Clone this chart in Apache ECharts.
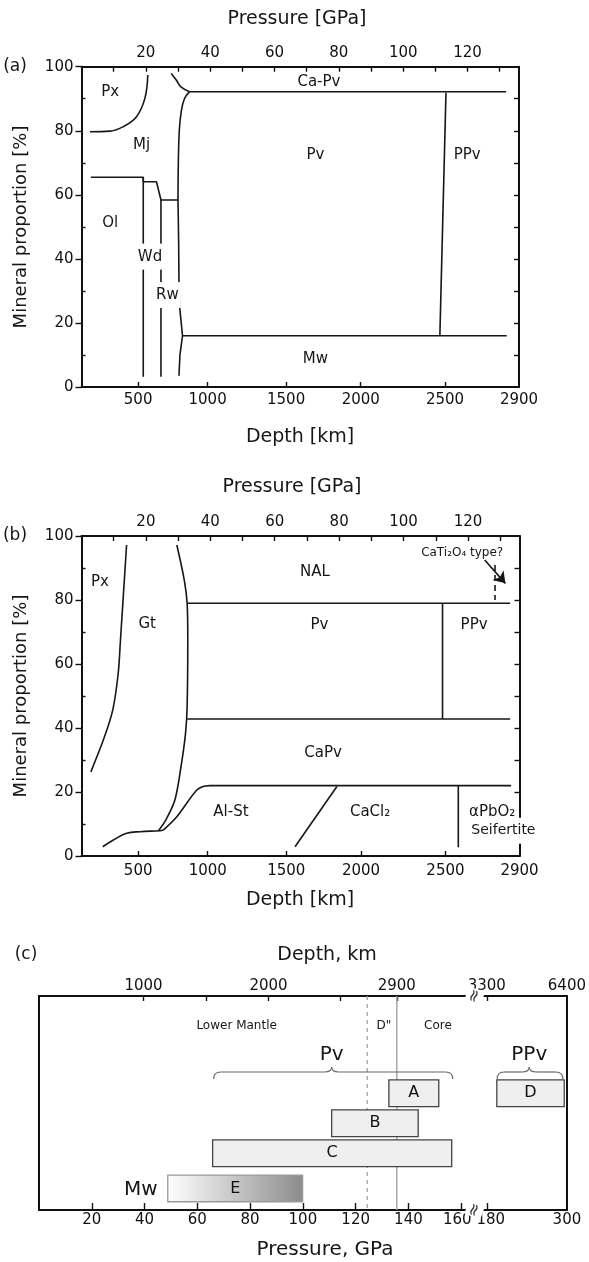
<!DOCTYPE html>
<html>
<head>
<meta charset="utf-8">
<title>Mineral proportions in the mantle</title>
<script src="https://cdn.jsdelivr.net/npm/echarts@6.0.0/dist/echarts.min.js"></script>
<style>
  html, body { margin: 0; padding: 0; background: #fff; }
  #chart { width: 589px; height: 1262px; }
</style>
</head>
<body>
<div id="chart"></div>
<script>
// shared scale of panels (a) and (b): x is pressure in GPa
const pressureMax = 136;
const pressureLabels = [20, 40, 60, 80, 100, 120];
const pressureTicks = [10, 20, 30, 40, 50, 60, 70, 80, 90, 100, 110, 120, 130];
const depthKm = [500, 1000, 1500, 2000, 2500, 2900];
const depthAtPressure = [17.6, 39.2, 63.6, 86.8, 113, 136];
const proportionLabels = [0, 20, 40, 60, 80, 100];
const proportionMinor = [10, 30, 50, 70, 90];
const proportionAll = [10, 20, 30, 40, 50, 60, 70, 80, 90];

// (a) phase boundaries, [pressure GPa, proportion %]
const aPxMj = [[2.6, 79.7], [8.9, 79.9], [13.0, 81.3], [17.1, 84.4], [19.7, 90.1], [20.6, 97.4]];
const aOlTop = [[2.9, 65.5], [19.2, 65.5], [19.2, 64.1], [23.3, 64.1], [24.7, 58.4], [30.0, 58.4]];
const aOlWd = [[19.2, 65.5], [19.2, 3.2]];
const aWdRw = [[24.7, 58.4], [24.7, 3.2]];
const aRwPv = [[30.0, 58.4], [30.2, 45.0], [30.3, 33.0], [30.5, 25.0], [31.4, 16.0], [30.6, 10.0], [30.3, 3.5]];
const aMjPv = [[30.0, 58.4], [30.1, 70.0], [30.4, 80.0], [31.0, 86.0], [32.0, 90.0], [33.6, 92.2]];
const aCaPvCurve = [[27.9, 97.9], [29.4, 95.9], [31.0, 93.6], [33.6, 92.2]];
const aCaPv = [[33.6, 92.2], [132.0, 92.2]];
const aPvPPv = [[113.3, 91.9], [111.4, 16.0]];
const aMw = [[31.4, 16.0], [132.2, 16.0]];
const aLabels = [['Px', 8.9, 92.2], ['Mj', 18.7, 75.6], ['Ca-Pv', 73.8, 95.3], ['Pv', 72.7, 72.4],
  ['PPv', 119.9, 72.4], ['Ol', 8.9, 51.1], ['Wd', 21.3, 40.7], ['Rw', 26.7, 28.7], ['Mw', 72.7, 8.6]];

// (b) phase boundaries
const bPxGt = [[2.9, 26.3], [6.8, 36.3], [9.7, 45.6], [11.4, 57.1], [12.1, 67.5], [14.0, 97.2]];
const bGtPv = [[29.6, 97.2], [31.9, 86.3], [32.8, 79.0], [33.0, 67.5], [32.8, 46.7], [32.3, 38.3],
  [30.9, 27.9], [29.0, 17.5], [26.2, 11.3], [23.9, 7.9]];
const bAlStLow = [[6.6, 2.9], [9.9, 5.0], [14.0, 7.1], [18.2, 7.6], [24.4, 7.9], [25.4, 8.1]];
const bAlStRise = [[25.4, 8.1], [29.6, 12.3], [35.8, 20.6], [38.4, 21.9], [39.9, 22.0]];
const bCaPvBase = [[39.9, 22.0], [133.4, 22.0]];
const bNalPv = [[32.8, 79.0], [133.1, 79.0]];
const bPvCaPv = [[32.8, 42.8], [133.1, 42.8]];
const bPvPPv = [[112.1, 79.0], [112.1, 42.8]];
const bCaCl2 = [[66.3, 2.9], [79.3, 21.7]];
const bSeifertite = [[117.0, 22.0], [117.0, 2.7]];
const bCaTi2O4 = [[128.4, 90.9], [128.4, 80.0]];
const bArrow = [[125.2, 92.5], [131.6, 85.2]];
const bLabels = [['Px', 5.7, 85.7], ['Gt', 20.4, 72.5], ['NAL', 72.5, 88.8], ['Pv', 73.9, 72.2],
  ['PPv', 121.9, 72.2], ['CaPv', 75.0, 32.3], ['Al-St', 46.4, 13.8], ['CaCl₂', 89.6, 13.8],
  ['αPbO₂', 127.5, 13.8], ['Seifertite', 131.0, 7.9], ['CaTi₂O₄ type?', 118.2, 94.6]];

// (c) stability ranges, pressure axis broken between 160 and 180 GPa
const cPressureTicks = [20, 40, 60, 80, 100, 120, 140, 160, 180, 300];
const cDepthKm = [1000, 1500, 2000, 2500, 2900, 3300, 6400];
const cDepthAtPressure = [39.6, 63.3, 87.0, 114.3, 135.6, 180, 300];
const cDepthLabelled = [1000, 2000, 2900, 3300, 6400];
const cBoxNames = ['A', 'B', 'C', 'D', 'E'];
const cBoxFrom = [132.6, 110.9, 65.8, 195, 48.8];
const cBoxTo = [151.5, 143.7, 156.4, 296, 99.9];
const cBoxRow = [1, 2, 3, 1, 4.17];
const cBraceFrom = [66.2, 195.5];
const cBraceTo = [156.8, 294];
const cBraceTip = [110.9, 243.6];
const cDDoublePrime = 124.4;
const cCoreMantle = 135.6;
const cNotes = [['Lower Mantle', 74.9, -1.25], ['D"', 130.7, -1.25], ['Core', 151.2, -1.25],
  ['Pv', 110.9, -0.28], ['PPv', 243.6, -0.28], ['Mw', 38.6, 4.22]];
const cBigNotes = ['Pv', 'PPv', 'Mw'];

const FONT = 'DejaVu Sans';
const INK = '#161616';
const cYMin = -2.243, cYMax = 4.89;

// broken axis: 0-165 linear, 165-180 squeezed, above 180 compressed
function brk(p) {
  if (p <= 165) return p;
  if (p <= 180) return 165 + (p - 165) * 4.7 / 15;
  return 169.7 + (p - 180) * 0.253;
}
function nearestIndex(arr, v) {
  let best = 0;
  arr.forEach((a, i) => { if (Math.abs(a - v) < Math.abs(arr[best] - v)) best = i; });
  return best;
}

const frameLine = {show: true, onZero: false, lineStyle: {color: '#111', width: 2}};
const tickLine = {color: '#111', width: 1.4};
const tickFont = {color: '#111', fontSize: 15, fontFamily: FONT};

function panelXAxes(g) {
  return [{
    gridIndex: g, type: 'value', position: 'bottom', min: 0, max: pressureMax,
    splitLine: {show: false}, axisLine: frameLine,
    axisTick: {show: true, inside: true, length: 5, customValues: depthAtPressure.slice(0, -1), lineStyle: tickLine},
    axisLabel: Object.assign({customValues: depthAtPressure, margin: g === 0 ? 6 : 8,
      formatter: v => String(depthKm[nearestIndex(depthAtPressure, v)])}, tickFont)
  }, {
    gridIndex: g, type: 'value', position: 'top', min: 0, max: pressureMax,
    splitLine: {show: false}, axisLine: frameLine,
    axisTick: {show: true, inside: true, length: 5, customValues: pressureTicks, lineStyle: tickLine},
    axisLabel: Object.assign({customValues: pressureLabels, margin: 6}, tickFont)
  }];
}
function panelYAxes(g) {
  const base = {gridIndex: g, type: 'value', min: 0, max: 100, splitLine: {show: false}};
  return [
    Object.assign({}, base, {position: 'left', axisLine: frameLine,
      axisTick: {show: true, inside: false, length: 6, customValues: proportionLabels, lineStyle: tickLine},
      axisLabel: Object.assign({customValues: proportionLabels, margin: 8}, tickFont)}),
    Object.assign({}, base, {position: 'left', axisLine: {show: false},
      axisTick: {show: true, inside: true, length: 4, customValues: proportionMinor, lineStyle: tickLine},
      axisLabel: {show: false}}),
    Object.assign({}, base, {position: 'right', axisLine: frameLine,
      axisTick: {show: true, inside: true, length: 5, customValues: proportionAll, lineStyle: tickLine},
      axisLabel: {show: false}})
  ];
}

function path(data, xi, yi, smooth, extra) {
  return Object.assign({
    type: 'line', xAxisIndex: xi, yAxisIndex: yi, data: data, symbol: 'none',
    smooth: smooth || false, silent: true, z: 3,
    lineStyle: {color: INK, width: 1.6}
  }, extra || {});
}
function labels(list, xi, yi, masked, sizeOf) {
  return {
    type: 'scatter', xAxisIndex: xi, yAxisIndex: yi, symbolSize: 1, silent: true, z: 10,
    itemStyle: {color: 'rgba(0,0,0,0)', opacity: 1},
    data: list.map(l => {
      const item = {name: l[0], value: [l[1], l[2]]};
      const lab = {fontSize: sizeOf ? sizeOf(l[0]) : 15, color: INK};
      if (masked.indexOf(l[0]) >= 0) Object.assign(lab, {backgroundColor: '#fff', padding: [4, 2]});
      item.label = lab;
      return item;
    }),
    label: {show: true, position: 'inside', formatter: '{b}', color: INK, fontFamily: FONT,
      lineHeight: 18, textBorderWidth: 0}
  };
}

const cX = cPressureTicks.map(brk);
const cDepthX = cDepthAtPressure.map(brk);

// nudge the two labels on either side of the axis break apart
function cPressureLabel(v) {
  const p = cPressureTicks[nearestIndex(cX, v)];
  if (p === 160) return '{l|160}';
  if (p === 180) return '{r|180}';
  return String(p);
}

function title(text, x, y, size, rot) {
  const el = {type: 'text', x: x, y: y,
    style: {text: text, fontSize: size, fill: INK, align: 'center', verticalAlign: 'middle', fontFamily: FONT}};
  if (rot) el.rotation = rot;
  return el;
}

const option = {
  animation: false,
  textStyle: {fontFamily: FONT},
  grid: [
    {left: 81.5, top: 66.7, width: 437.5, height: 320.3},
    {left: 81.5, top: 536, width: 438, height: 320},
    {left: 39, top: 996, width: 532.5, height: 214}
  ],
  xAxis: panelXAxes(0).concat(panelXAxes(1)).concat([{
    gridIndex: 2, type: 'value', position: 'bottom', min: 0, max: brk(300),
    splitLine: {show: false}, axisLine: frameLine,
    axisTick: {show: true, inside: true, length: 7, customValues: cX.slice(0, -1), lineStyle: tickLine},
    axisLabel: Object.assign({customValues: cX, margin: 3, formatter: cPressureLabel,
      rich: {
        l: {fontSize: 15, fontFamily: FONT, color: '#111', padding: [0, 8, 0, 0]},
        r: {fontSize: 15, fontFamily: FONT, color: '#111', padding: [0, 0, 0, 8]}
      }}, tickFont)
  }, {
    gridIndex: 2, type: 'value', position: 'top', min: 0, max: brk(300),
    splitLine: {show: false}, axisLine: frameLine,
    axisTick: {show: true, inside: true, length: 5, customValues: cDepthX.slice(0, -1), lineStyle: tickLine},
    axisLabel: Object.assign({
      customValues: cDepthLabelled.map(d => cDepthX[cDepthKm.indexOf(d)]), margin: 2,
      formatter: v => String(cDepthKm[nearestIndex(cDepthX, v)])}, tickFont)
  }]),
  yAxis: panelYAxes(0).concat(panelYAxes(1)).concat([
    {gridIndex: 2, type: 'value', position: 'left', min: cYMin, max: cYMax, inverse: true,
      splitLine: {show: false}, axisLine: frameLine, axisTick: {show: false}, axisLabel: {show: false}},
    {gridIndex: 2, type: 'value', position: 'right', min: cYMin, max: cYMax, inverse: true,
      splitLine: {show: false}, axisLine: frameLine, axisTick: {show: false}, axisLabel: {show: false}}
  ]),
  graphic: [
    title('(a)', 15, 67, 17),
    title('Pressure [GPa]', 297, 19, 19),
    title('Mineral proportion [%]', 21, 227, 18, Math.PI / 2),
    title('Depth [km]', 300, 437, 19),
    title('(b)', 15, 536, 17),
    title('Pressure [GPa]', 292, 487, 19),
    title('Mineral proportion [%]', 21, 696, 18, Math.PI / 2),
    title('Depth [km]', 300, 900, 19),
    title('(c)', 26, 955, 17),
    title('Depth, km', 327, 955, 19),
    title('Pressure, GPa', 325, 1250, 20)
  ],
  series: [
    // panel (a)
    path(aPxMj, 0, 0, 0.4),
    path(aOlTop, 0, 0),
    path(aOlWd, 0, 0),
    path(aWdRw, 0, 0),
    path(aRwPv, 0, 0),
    path(aMjPv, 0, 0, 0.4),
    path(aCaPvCurve, 0, 0, 0.4),
    path(aCaPv, 0, 0),
    path(aPvPPv, 0, 0),
    path(aMw, 0, 0),
    labels(aLabels, 0, 0, ['Wd', 'Rw']),
    // panel (b)
    path(bPxGt, 2, 3, 0.3),
    path(bGtPv, 2, 3, 0.3),
    path(bAlStLow, 2, 3, 0.4),
    path(bAlStRise, 2, 3, 0.3),
    path(bCaPvBase, 2, 3),
    path(bNalPv, 2, 3),
    path(bPvCaPv, 2, 3),
    path(bPvPPv, 2, 3),
    path(bCaCl2, 2, 3),
    path(bSeifertite, 2, 3),
    path(bCaTi2O4, 2, 3, false, {lineStyle: {color: INK, width: 1.6, type: [6, 4]}}),
    {
      type: 'line', xAxisIndex: 2, yAxisIndex: 3, data: [], silent: true,
      markLine: {
        silent: true, animation: false, symbol: ['none', 'arrow'], symbolSize: 11,
        lineStyle: {color: INK, width: 1.6, type: 'solid'}, label: {show: false},
        data: [[{coord: bArrow[0]}, {coord: bArrow[1]}]]
      }
    },
    labels(bLabels, 2, 3, ['Seifertite'], n => n === 'CaTi₂O₄ type?' ? 12 : (n === 'Seifertite' ? 14 : 15)),
    // panel (c)
    path([[brk(cDDoublePrime), cYMin], [brk(cDDoublePrime), cYMax]], 4, 6, false,
      {z: 1, lineStyle: {color: '#9a9a9a', width: 1.2, type: [4, 4]}}),
    path([[brk(cCoreMantle), cYMin], [brk(cCoreMantle), cYMax]], 4, 6, false,
      {z: 1, lineStyle: {color: '#a8a8a8', width: 1.5}}),
    {
      type: 'custom', coordinateSystem: 'cartesian2d', xAxisIndex: 4, yAxisIndex: 6, silent: true, z: 4,
      data: cBoxNames.map((n, i) => [brk(cBoxFrom[i]), brk(cBoxTo[i]), cBoxRow[i]]),
      encode: {x: [0, 1], y: 2},
      renderItem(params, api) {
        const a = api.coord([api.value(0), api.value(2)]);
        const b = api.coord([api.value(1), api.value(2)]);
        const h = Math.abs(api.size([0, 0.89])[1]);
        const name = cBoxNames[params.dataIndex];
        const graded = name === 'E';
        return {
          type: 'group', children: [{
            type: 'rect',
            shape: {x: a[0], y: a[1] - h / 2, width: b[0] - a[0], height: h},
            style: {
              fill: graded ? new echarts.graphic.LinearGradient(0, 0, 1, 0,
                [{offset: 0, color: '#ffffff'}, {offset: 1, color: '#8c8c8c'}]) : '#efefef',
              stroke: graded ? '#9a9a9a' : '#444', lineWidth: 1.3
            }
          }, {
            type: 'text',
            style: {text: name, x: (a[0] + b[0]) / 2, y: a[1], align: 'center', verticalAlign: 'middle',
              fontSize: 16, fill: '#111', fontFamily: FONT}
          }]
        };
      }
    },
    {
      type: 'custom', coordinateSystem: 'cartesian2d', xAxisIndex: 4, yAxisIndex: 6, silent: true, z: 4,
      data: cBraceFrom.map((s, i) => [brk(s), brk(cBraceTo[i]), brk(cBraceTip[i]), 0.29]),
      encode: {x: [0, 1, 2], y: 3},
      renderItem(params, api) {
        const l = api.coord([api.value(0), api.value(3)]);
        const r = api.coord([api.value(1), api.value(3)]);
        const m = api.coord([api.value(2), api.value(3)]);
        const y = l[1], c = 7, st = {stroke: '#666', lineWidth: 1.2, fill: null};
        return {
          type: 'group', children: [
            {type: 'bezierCurve', shape: {x1: l[0], y1: y + 7, cpx1: l[0], cpy1: y, x2: l[0] + c, y2: y}, style: st},
            {type: 'line', shape: {x1: l[0] + c, y1: y, x2: m[0] - c, y2: y}, style: st},
            {type: 'bezierCurve', shape: {x1: m[0] - c, y1: y, cpx1: m[0], cpy1: y, x2: m[0], y2: y - 5}, style: st},
            {type: 'bezierCurve', shape: {x1: m[0], y1: y - 5, cpx1: m[0], cpy1: y, x2: m[0] + c, y2: y}, style: st},
            {type: 'line', shape: {x1: m[0] + c, y1: y, x2: r[0] - c, y2: y}, style: st},
            {type: 'bezierCurve', shape: {x1: r[0] - c, y1: y, cpx1: r[0], cpy1: y, x2: r[0], y2: y + 7}, style: st}
          ]
        };
      }
    },
    labels(cNotes.map(n => [n[0], brk(n[1]), n[2]]), 4, 6, [], n => cBigNotes.indexOf(n) >= 0 ? 20 : 12),
    {
      type: 'scatter', xAxisIndex: 4, yAxisIndex: 6, symbolSize: 1, silent: true, z: 10,
      itemStyle: {color: 'rgba(0,0,0,0)', opacity: 1},
      data: [[165.1, cYMin], [165.1, cYMax]],
      label: {show: true, position: 'inside', formatter: '≈', fontSize: 17, color: '#333', rotate: 70,
        backgroundColor: '#fff', padding: [0, 0]}
    }
  ]
};

const chart = echarts.init(document.getElementById('chart'), null, {renderer: 'canvas'});
chart.setOption(option);
</script>
</body>
</html>
